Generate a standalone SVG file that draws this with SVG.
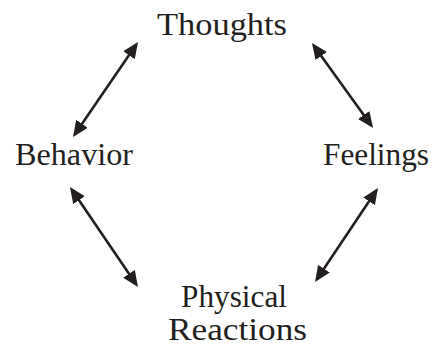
<svg xmlns="http://www.w3.org/2000/svg" width="433" height="346" viewBox="0 0 433 346">
<style>
.lbl{font-family:"Liberation Serif","Times New Roman",serif;font-size:32px;fill:#231f20}
.arr{stroke:#231f20;stroke-width:2.6;fill:none;marker-start:url(#ah);marker-end:url(#ah)}
</style>
<defs>
<marker id="ah" markerUnits="userSpaceOnUse" markerWidth="18" markerHeight="16" refX="13" refY="7" orient="auto-start-reverse" viewBox="0 0 18 16">
<path d="M0,0 L16,7 L0,14 Z" fill="#231f20"/>
</marker>
</defs>
<rect width="433" height="346" fill="#ffffff"/>
<g id="connectors">
<line class="arr" x1="74.7" y1="134.5" x2="136.3" y2="44.5"/>
<line class="arr" x1="313.7" y1="45.4" x2="371.3" y2="125.6"/>
<line class="arr" x1="71.7" y1="189.5" x2="136.3" y2="284.5"/>
<line class="arr" x1="376.3" y1="190.5" x2="316.7" y2="279.5"/>
</g>
<g id="thoughts"><text class="lbl" x="157" y="35" textLength="130" lengthAdjust="spacingAndGlyphs">Thoughts</text></g>
<g id="behavior"><text class="lbl" x="15" y="165" textLength="118" lengthAdjust="spacingAndGlyphs">Behavior</text></g>
<g id="feelings"><text class="lbl" x="323" y="165" textLength="106" lengthAdjust="spacingAndGlyphs">Feelings</text></g>
<g id="physical-reactions">
<text class="lbl" x="181" y="307" textLength="106" lengthAdjust="spacingAndGlyphs">Physical</text>
<text class="lbl" x="168" y="340" textLength="139" lengthAdjust="spacingAndGlyphs">Reactions</text>
</g>
</svg>
